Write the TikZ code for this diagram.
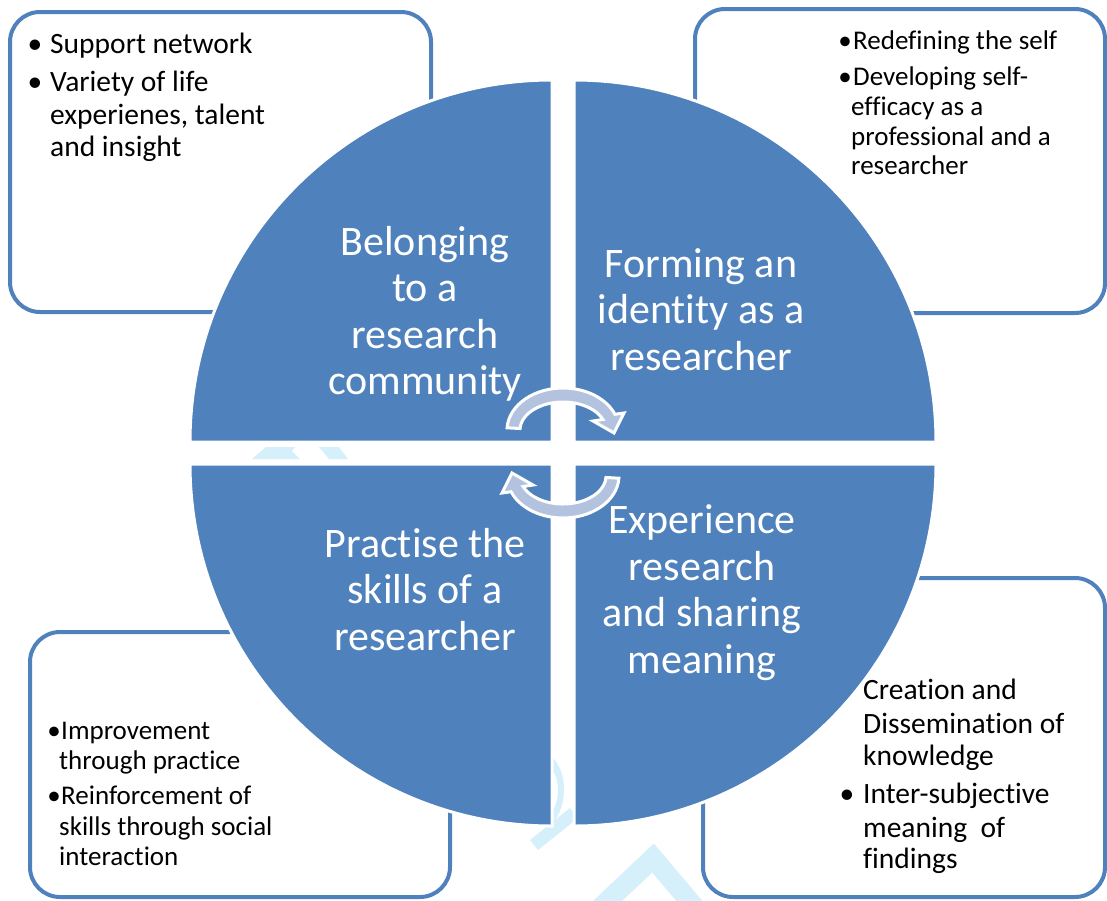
\documentclass[tikz,border=0pt]{standalone}
\usepackage{fontspec}
\setmainfont{Carlito}[Ligatures=NoCommon]
\usetikzlibrary{calc}
\definecolor{qblue}{HTML}{4F81BD}
\definecolor{arrowfill}{HTML}{B3C3DF}
\definecolor{wmark}{HTML}{D5EFFB}
\newcommand{\myarrowpath}{(507.1,427.8) arc[start angle=183, end angle=338, x radius=56, y radius=42] -- (624,413) -- (614,433) -- (593,421) -- ($(563,430)+(338:43 and 28)$) arc[start angle=338, end angle=183, x radius=43, y radius=28] -- cycle}
\tikzset{
  infobox/.style={draw=qblue, line width=4pt, fill=white, rounded corners=30pt},
  quad/.style={fill=qblue, draw=white, line width=3pt},
  arrowsty/.style={fill=arrowfill, draw=white, line width=3pt, line join=miter},
  circtext/.style={text=white, anchor=base, inner sep=0pt, font=\fontsize{42}{46}\selectfont},
  bigtext/.style={text=black, anchor=base west, inner sep=0pt, font=\fontsize{29.5}{33}\selectfont},
  smalltext/.style={text=black, anchor=base west, inner sep=0pt, font=\fontsize{27}{30}\selectfont},
  bigbullet/.style={text=black, anchor=base, inner sep=0pt, font=\fontsize{29.5}{33}\selectfont},
  smallbullet/.style={text=black, anchor=base, inner sep=0pt, font=\fontsize{27}{30}\selectfont},
}
\begin{document}
\begin{tikzpicture}[x=1pt,y=-1pt]
\useasboundingbox (0,0) rectangle (1107,900);
% side boxes
\draw[infobox] (10,12) rectangle (431,312);
\draw[infobox] (695,9) rectangle (1105,313);
\draw[infobox] (30,632) rectangle (450,897);
\draw[infobox] (703,578) rectangle (1105,897);
% faint watermark pieces
\fill[wmark] (252,459) -- (266,447) -- (295,447) -- (292,451) -- (300,459) -- cycle;
\fill[wmark] (319,447) -- (339,447) -- (348,459) -- (329,459) -- cycle;
\fill[wmark] (552,757) .. controls (568,772) and (568,806) .. (552,824) -- (552,812) .. controls (560,800) and (560,780) .. (552,769) -- cycle;
\fill[wmark] (530,840) -- (570,808) -- (578,818) -- (538,850) -- cycle;
\draw[wmark, line width=20pt, line join=miter] (598,910) -- (653,858) -- (697,910);
% quadrants
\filldraw[quad] (552,442) -- (190,442) arc[start angle=180, end angle=270, radius=362] -- cycle;
\filldraw[quad] (574,442) -- (574,80) arc[start angle=270, end angle=360, radius=362] -- cycle;
\filldraw[quad] (552,464) -- (190,464) arc[start angle=180, end angle=90, radius=362] -- cycle;
\filldraw[quad] (574,464) -- (936,464) arc[start angle=0, end angle=90, radius=362] -- cycle;
% quadrant texts
\node[circtext] (tl1) at (425,255) {Belonging};
\node[circtext] (tl2) at (425,301.5) {to a};
\node[circtext] (tl3) at (425,348) {research};
\node[circtext] (tl4) at (425,394.5) {community};
\node[circtext] (tr1) at (701,277) {Forming an};
\node[circtext] (tr2) at (701,323.5) {identity as a};
\node[circtext] (tr3) at (701,370) {researcher};
\node[circtext] (bl1) at (425,557) {Practise the};
\node[circtext] (bl2) at (425,603.5) {skills of a};
\node[circtext] (bl3) at (425,650) {researcher};
\node[circtext] (br1) at (702,533) {Experience};
\node[circtext] (br2) at (702,580) {research};
\node[circtext] (br3) at (702,626.5) {and sharing};
\node[circtext] (br4) at (702,673) {meaning};
% circular arrows
\filldraw[arrowsty] \myarrowpath;
\begin{scope}[rotate around={180:(563,453)}]
\filldraw[arrowsty] \myarrowpath;
\end{scope}
% box 1
\node[bigbullet] (a1b) at (35,53) {•};
\node[bigtext] (a1) at (50,53) {Support network};
\node[bigbullet] (a2b) at (35,91) {•};
\node[bigtext] (a2) at (50,91) {Variety of life};
\node[bigtext] (a3) at (50,124) {experienes, talent};
\node[bigtext] (a4) at (50,156) {and insight};
% box 2
\node[smallbullet] (b1b) at (845,49) {•};
\node[smalltext] (b1) at (853,49) {Redefining the self};
\node[smallbullet] (b2b) at (845,85) {•};
\node[smalltext] (b2) at (853,85) {Developing self-};
\node[smalltext] (b3) at (851,115) {efficacy as a};
\node[smalltext] (b4) at (851,145) {professional and a};
\node[smalltext] (b5) at (851,174) {researcher};
% box 3
\node[smallbullet] (c1b) at (54,739) {•};
\node[smalltext] (c1) at (61,739) {Improvement};
\node[smalltext] (c2) at (59,769) {through practice};
\node[smallbullet] (c3b) at (54,804) {•};
\node[smalltext] (c3) at (61,804) {Reinforcement of};
\node[smalltext] (c4) at (59,835) {skills through social};
\node[smalltext] (c5) at (59,865) {interaction};
% box 4
\node[bigtext] (d1) at (863,699) {Creation and};
\node[bigtext] (d2) at (863,733) {Dissemination of};
\node[bigtext] (d3) at (863,765) {knowledge};
\node[bigbullet] (d4b) at (847,803) {•};
\node[bigtext] (d4) at (863,803) {Inter-subjective};
\node[bigtext] (d5) at (863,837) {meaning\ \ of};
\node[bigtext] (d6) at (863,868) {findings};
\end{tikzpicture}
\end{document}
